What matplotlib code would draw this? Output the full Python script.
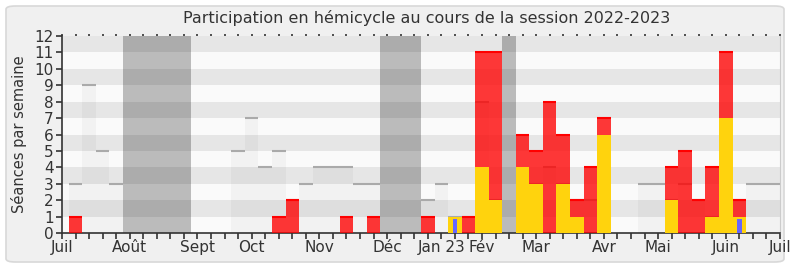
import matplotlib
matplotlib.use('Agg')
import matplotlib.pyplot as plt
from matplotlib.patches import FancyBboxPatch
import numpy as np

# semaines de la session (1 = premiere semaine de juillet 2022)
weeks = np.arange(1, 54)

# presence mediane des deputes (barres grises)
median = [3, 9, 5, 3, 0, 0, 0, 0, 0, 0, 0, 0, 5, 7, 4, 5, 2, 3, 4, 4,
          4, 3, 3, 0, 0, 0, 2, 3, 1, 1, 8, 2, 0, 3, 3, 4, 3, 2, 2, 3,
          0, 0, 3, 3, 2, 3, 2, 1, 3, 2, 3, 3, 3]
# seances avec presence du depute (rouge)
presences = [1, 0, 0, 0, 0, 0, 0, 0, 0, 0, 0, 0, 0, 0, 0, 1, 2, 0, 0, 0,
             1, 0, 1, 0, 0, 0, 1, 0, 1, 1, 11, 11, 0, 6, 5, 8, 6, 2, 4, 7,
             0, 0, 0, 0, 4, 5, 2, 4, 11, 2, 0, 0, 0]
# seances avec intervention (jaune)
interventions = [0, 0, 0, 0, 0, 0, 0, 0, 0, 0, 0, 0, 0, 0, 0, 0, 0, 0, 0, 0,
                 0, 0, 0, 0, 0, 0, 0, 0, 1, 0, 4, 2, 0, 4, 3, 0, 3, 1, 0, 6,
                 0, 0, 0, 0, 2, 0, 0, 1, 7, 1, 0, 0, 0]
# questions orales (bleu)
questions = [0] * 28 + [1] + [0] * 20 + [1] + [0] * 3

# vacances parlementaires (debut, fin en semaines)
vacances = [(5, 9), (24, 26), (33, 33)]

month_pos = [0, 5, 10, 14, 19, 24, 28, 31, 35, 40, 44, 49, 53]
month_labels = ['Juil', 'Août', 'Sept', 'Oct', 'Nov', 'Déc', 'Jan 23', 'Fév',
                'Mar', 'Avr', 'Mai', 'Juin', 'Juil']

plt.rcParams['font.family'] = ['DejaVu Sans']
txt = '#333333'

fig = plt.figure(figsize=(7.9, 2.67), dpi=100)
fig.patch.set_facecolor('white')
# cadre arrondi
cadre = FancyBboxPatch((6 / 790, 5 / 267), 778 / 790, 256 / 267,
                       boxstyle='round,pad=0,rounding_size=0.012',
                       transform=fig.transFigure, facecolor='#f0f0f0',
                       edgecolor='#d8d8d8', linewidth=1.2, zorder=-10)
fig.patches.append(cadre)

ax = fig.add_axes([62 / 790, 1 - 233 / 267, 718 / 790, 197 / 267])
ax.set_facecolor('#fafafa')

# bandes horizontales
for y in range(1, 12, 2):
    ax.axhspan(y, y + 1, color='#e6e6e6', lw=0, zorder=0)

# vacances
for a, b in vacances:
    ax.axvspan(a - 0.5, b + 0.5, color='black', alpha=0.25, lw=0, zorder=1)

# mediane
ax.bar(weeks, median, width=1, color='black', alpha=0.03, lw=0, zorder=2)
m = np.array(median)
ax.hlines(m[m > 0], weeks[m > 0] - 0.5, weeks[m > 0] + 0.5, color='#aaaaaa',
          lw=1.5, zorder=2)

# presences
p = np.array(presences)
iv = np.array(interventions)
ax.bar(weeks, presences, width=1, color='#ff0000', alpha=0.78, lw=0, zorder=3)
haut = p > iv
ax.hlines(p[haut], weeks[haut] - 0.5, weeks[haut] + 0.5, color='#ff0000',
          lw=1.5, zorder=3)

# interventions
ax.bar(weeks, interventions, width=1, color='#ffd30d', lw=0, zorder=4)

# questions orales
ax.bar(weeks, np.array(questions) * 0.85, width=0.33, color='#6666ff', lw=0,
       zorder=5)

ax.set_xlim(0, 53)
ax.set_ylim(0, 12)
ax.set_yticks(range(0, 13))
ax.set_xticks(range(0, 54), minor=True)
ax.set_xticks(month_pos)
ax.set_xticklabels(month_labels)
ax.tick_params(axis='x', which='both', direction='out', length=4, width=1.2,
               color=txt, labelcolor=txt, labelsize=11, pad=1,
               top=True)
ax.tick_params(axis='y', direction='out', length=4, width=1.2, color=txt,
               labelcolor=txt, labelsize=11, pad=2)
for t in ax.xaxis.get_major_ticks() + ax.xaxis.get_minor_ticks():
    t.tick2line.set_markersize(1.2)
    t.tick2line.set_markeredgewidth(1.2)

ax.spines['top'].set_visible(False)
ax.spines['right'].set_color('#cccccc')
ax.spines['left'].set_color(txt)
ax.spines['bottom'].set_color(txt)
ax.spines['left'].set_linewidth(1.2)
ax.spines['bottom'].set_linewidth(1.2)

ax.set_ylabel('Séances par semaine', color=txt, fontsize=10.5, labelpad=5)
fig.text(427 / 790, 1 - 18 / 267, 'Participation en hémicycle au cours de la session 2022-2023',
         ha='center', va='center', color=txt, fontsize=11.5)

plt.savefig('out.png', dpi=100)
